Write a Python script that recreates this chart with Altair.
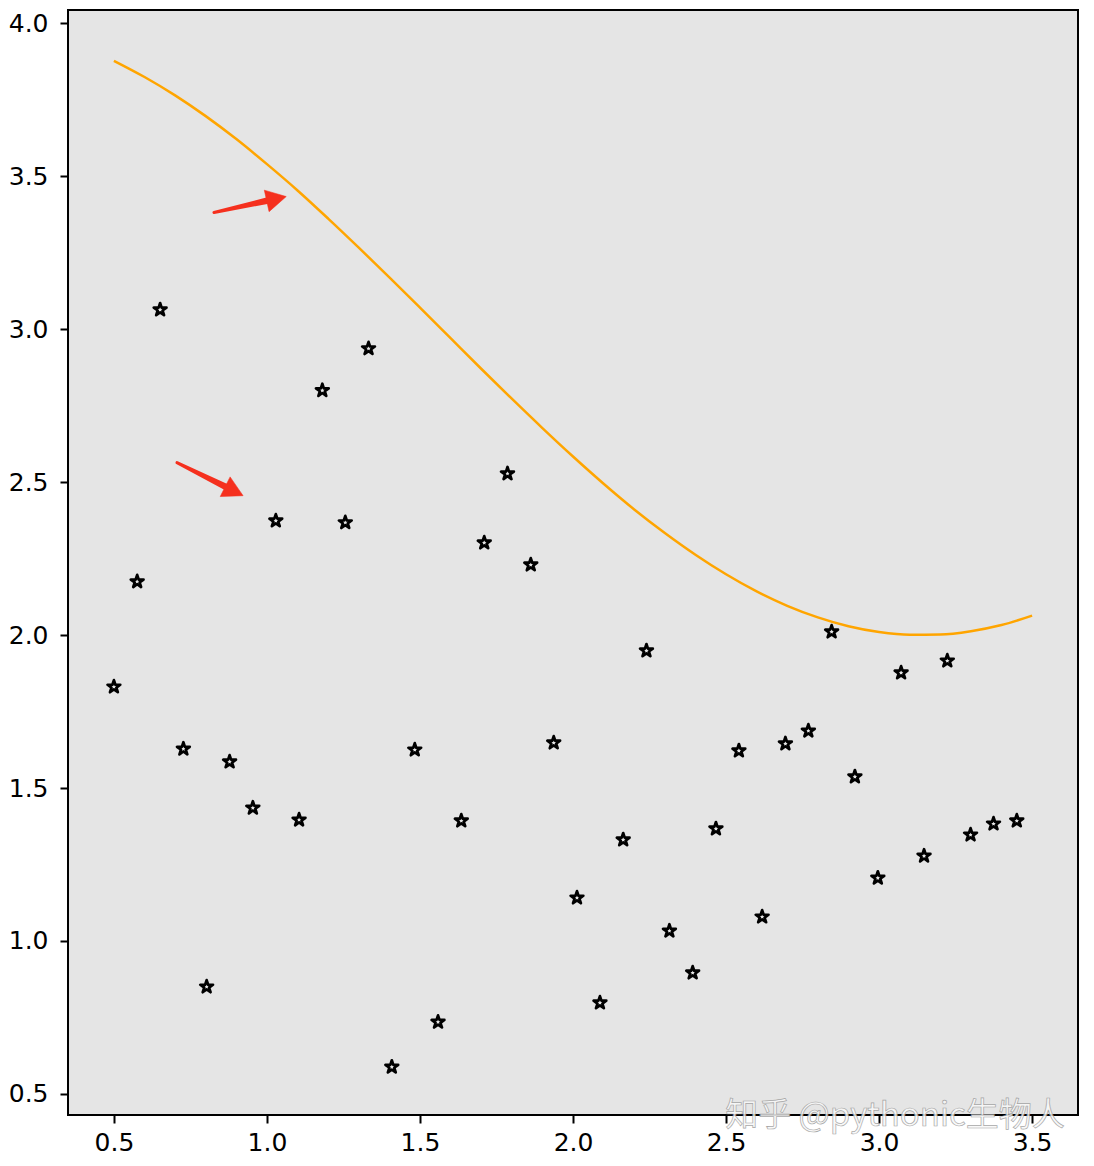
import altair as alt
import pandas as pd

# scatter (stars)
star_x = [0.500, 0.576, 0.651, 0.727, 0.803, 0.878, 0.954, 1.029, 1.105, 1.181,
          1.256, 1.332, 1.408, 1.483, 1.559, 1.635, 1.710, 1.786, 1.862, 1.937,
          2.013, 2.088, 2.164, 2.240, 2.315, 2.391, 2.467, 2.542, 2.618, 2.694,
          2.769, 2.845, 2.921, 2.996, 3.072, 3.147, 3.223, 3.299, 3.374, 3.450]
star_y = [1.831, 2.175, 3.064, 1.628, 0.850, 1.586, 1.435, 2.374, 1.396, 2.800,
          2.368, 2.937, 0.588, 1.625, 0.735, 1.393, 2.302, 2.528, 2.230, 1.648,
          1.141, 0.798, 1.331, 1.949, 1.033, 0.896, 1.367, 1.622, 1.079, 1.645,
          1.687, 2.011, 1.537, 1.206, 1.877, 1.278, 1.916, 1.347, 1.383, 1.393]

# orange curve
curve_x = [0.5, 0.6, 0.7, 0.8, 0.9, 1.0, 1.1, 1.2, 1.3, 1.4, 1.5, 1.6, 1.7, 1.8,
           1.9, 2.0, 2.1, 2.2, 2.3, 2.4, 2.5, 2.6, 2.7, 2.8, 2.9, 3.0, 3.1, 3.2,
           3.3, 3.4, 3.5]
curve_y = [3.878, 3.825, 3.765, 3.697, 3.622, 3.540, 3.454, 3.362, 3.267, 3.170,
           3.071, 2.971, 2.871, 2.773, 2.677, 2.584, 2.495, 2.411, 2.334, 2.263,
           2.199, 2.143, 2.096, 2.058, 2.029, 2.010, 2.001, 2.002, 2.013, 2.033,
           2.064]

# red arrows: tail, shaft end, tip, head angle
arrow_id = ["a1", "a2"]
arrow_tail_x = [0.827, 0.706]
arrow_tail_y = [3.382, 2.564]
arrow_shaft_x = [1.025, 0.887]
arrow_shaft_y = [3.426, 2.474]
arrow_tip_x = [1.063, 0.922]
arrow_tip_y = [3.434, 2.456]
arrow_angle = [347.5, 26.6]
shaft_width = [3.0, 7.0]

x_ticks = [0.5, 1.0, 1.5, 2.0, 2.5, 3.0, 3.5]
y_ticks = [0.5, 1.0, 1.5, 2.0, 2.5, 3.0, 3.5, 4.0]

stars = pd.DataFrame({"x": star_x, "y": star_y})
curve = pd.DataFrame({"x": curve_x, "y": curve_y})
shafts = pd.DataFrame({
    "id": arrow_id + arrow_id,
    "x": arrow_tail_x + arrow_shaft_x,
    "y": arrow_tail_y + arrow_shaft_y,
    "w": [shaft_width[0]] * 2 + [shaft_width[1]] * 2,
    "o": [0, 0, 1, 1],
})
heads = pd.DataFrame({"x": arrow_tip_x, "y": arrow_tip_y, "angle": arrow_angle})

STAR = ("M0,-1L0.225,-0.309L0.951,-0.309L0.363,0.118L0.588,0.809L0,0.382"
        "L-0.588,0.809L-0.363,0.118L-0.951,-0.309L-0.225,-0.309Z")
HEAD = "M0,0L-1,-0.55L-1,0.55Z"

FONT = "DejaVu Sans"
xscale = alt.Scale(domain=[0.35, 3.65], nice=False, zero=False)
yscale = alt.Scale(domain=[0.431, 4.044], nice=False, zero=False)
xaxis = alt.Axis(values=x_ticks, format=".1f", title=None, grid=False, domain=False,
                 orient="bottom",
                 tickSize=8, tickWidth=2, tickColor="black", labelFont=FONT,
                 labelFontSize=25, labelColor="black", labelPadding=7)
yaxis = alt.Axis(values=y_ticks, format=".1f", title=None, grid=False, domain=False,
                 orient="left",
                 tickSize=8, tickWidth=2, tickColor="black", labelFont=FONT,
                 labelFontSize=25, labelColor="black", labelPadding=12)

X = alt.X("x:Q", scale=xscale, axis=xaxis)
Y = alt.Y("y:Q", scale=yscale, axis=yaxis)

line = alt.Chart(curve).mark_line(color="#ffa500", strokeWidth=2.5,
                                  interpolate="monotone").encode(x=X, y=Y)

pts = alt.Chart(stars).mark_point(shape=STAR, filled=False, stroke="black",
                                  strokeWidth=2.7, size=180, opacity=1,
                                  strokeJoin="round").encode(x=X, y=Y)

shaft = alt.Chart(shafts).mark_trail(color="#f5301e").encode(
    x=X, y=Y, size=alt.Size("w:Q", scale=None, legend=None),
    detail="id:N", order="o:Q")

head = alt.Chart(heads).mark_point(
    shape=HEAD, filled=True, fill="#f5301e", stroke="#f5301e",
    strokeWidth=0.5, size=1600, opacity=1).encode(
    x=X, y=Y, angle=alt.Angle("angle:Q", scale=None))

wm = alt.Chart(pd.DataFrame({"t": ["知乎 @pythonic生物人"]})).mark_text(
    font="Noto Sans CJK SC", fontSize=33, align="center", baseline="alphabetic",
    fill="#f8f8f8", stroke="#9a9a9a", strokeWidth=0.7, opacity=0.85).encode(
    text="t:N", x=alt.value(827), y=alt.value(1116))

chart = alt.layer(line, pts, shaft, head, wm).properties(
    width=1010, height=1105,
    autosize=alt.AutoSizeParams(type="none"),
    padding={"left": 60, "top": 2, "right": 6, "bottom": 42},
    background="white",
).configure_view(fill="#e5e5e5", stroke="black", strokeWidth=2)

chart.save("out.html", embed_options={"renderer": "svg", "actions": False})
